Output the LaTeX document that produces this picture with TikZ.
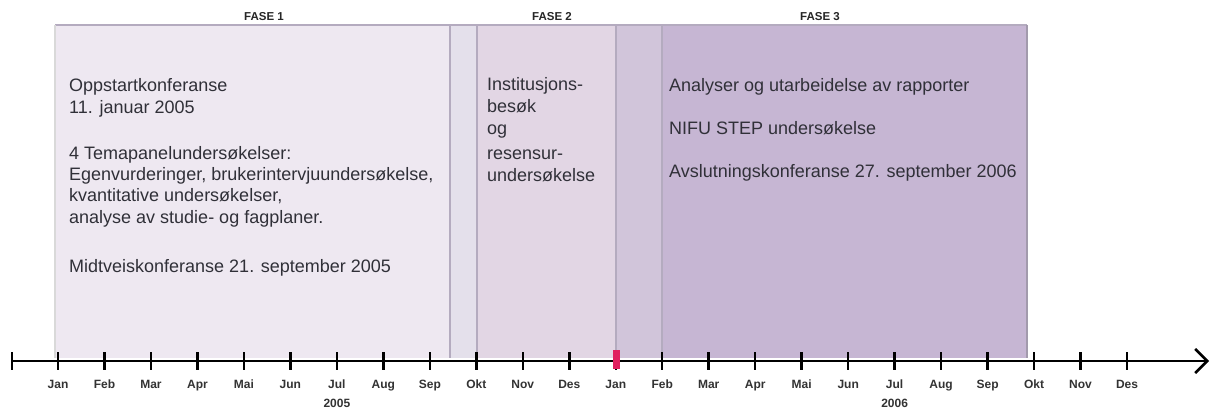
\documentclass[tikz,border=0pt]{standalone}
\usepackage{fontspec}
\setmainfont{Liberation Sans}
\usetikzlibrary{arrows.meta}
\definecolor{fone}{HTML}{EEE8F1}
\definecolor{ovone}{HTML}{E4E0EB}
\definecolor{ftwo}{HTML}{E2D6E4}
\definecolor{ovtwo}{HTML}{D1C5DA}
\definecolor{fthree}{HTML}{C6B6D3}
\definecolor{edge}{HTML}{B4ABBF}
\definecolor{txt}{HTML}{303038}
\definecolor{redtick}{HTML}{E0205F}
\begin{document}
\begin{tikzpicture}[x=1pt,y=-1pt,
  body/.style={anchor=base west, inner sep=0pt, text=txt, font=\fontsize{18}{22}\selectfont},
  month/.style={anchor=base, inner sep=0pt, text=black!80, font=\bfseries\fontsize{12}{13}\selectfont},
  fase/.style={anchor=base, inner sep=0pt, text=black!85, font=\bfseries\fontsize{11.5}{12}\selectfont},
  tickline/.style={line width=2.5pt, black},
  sep/.style={draw=edge, line width=1.2pt}]
\useasboundingbox (0,0) rectangle (1211,409);
\fill[white] (0,0) rectangle (1211,409);
% phase regions
\fill[fone]   (55,25)  rectangle (450,358);
\fill[ovone]  (450,25) rectangle (477,358);
\fill[ftwo]   (477,25) rectangle (616,358);
\fill[ovtwo]  (616,25) rectangle (662,358);
\fill[fthree] (662,25) rectangle (1027,358);
\draw[sep] (55,25) -- (1027,25);
\draw[draw=black!15, line width=2pt] (55,25) -- (55,358);
\draw[sep] (450,25) -- (450,358);
\draw[sep] (477,25) -- (477,358);
\draw[sep] (616,25) -- (616,358);
\draw[sep] (662,25) -- (662,358);
\draw[draw=edge!90!black, line width=1.2pt] (1027,25) -- (1027,358);
% phase titles
\node[fase] (fase1) at (264,21) {FASE 1};
\node[fase] (fase2) at (552,21) {FASE 2};
\node[fase] (fase3) at (820,21) {FASE 3};
% phase 1 text
\node[body] (p1a) at (69,92)  {Oppstartkonferanse};
\node[body] (p1b) at (69,114) {11. januar 2005};
\node[body] (p1c) at (69,160) {4 Temapanelundersøkelser:};
\node[body] (p1d) at (69,181) {Egenvurderinger, brukerintervjuundersøkelse,};
\node[body] (p1e) at (69,202) {kvantitative undersøkelser,};
\node[body] (p1f) at (69,223) {analyse av studie- og fagplaner.};
\node[body] (p1g) at (69,272) {Midtveiskonferanse 21. september 2005};
% phase 2 text
\node[body] (p2a) at (487,91)  {Institusjons-};
\node[body] (p2b) at (487,113) {besøk};
\node[body] (p2c) at (487,135) {og};
\node[body] (p2d) at (487,160) {resensur-};
\node[body] (p2e) at (487,182) {undersøkelse};
% phase 3 text
\node[body] (p3a) at (669,92)  {Analyser og utarbeidelse av rapporter};
\node[body] (p3b) at (669,135) {NIFU STEP undersøkelse};
\node[body] (p3c) at (669,178) {Avslutningskonferanse 27. september 2006};
% axis
\coordinate (axL) at (12,361);
\coordinate (axR) at (1209,361);
\draw[line width=2.5pt, -{Straight Barb[length=12pt,width=24pt]}] (axL) -- (axR);
\draw[tickline] (12,352) -- (12,370);
\foreach \m [count=\i from 0] in {Jan,Feb,Mar,Apr,Mai,Jun,Jul,Aug,Sep,Okt,Nov,Des,Jan,Feb,Mar,Apr,Mai,Jun,Jul,Aug,Sep,Okt,Nov,Des} {
  \pgfmathsetmacro\xx{58+46.48*\i}
  \draw[tickline] (\xx,352) -- (\xx,370);
  \node[month] (m\i) at (\xx,388) {\m};
}
\fill[redtick] (613,350) rectangle (620,369);
\node[month] (y2005) at (336.9,407) {2005};
\node[month] (y2006) at (894.6,407) {2006};
\end{tikzpicture}
\end{document}
